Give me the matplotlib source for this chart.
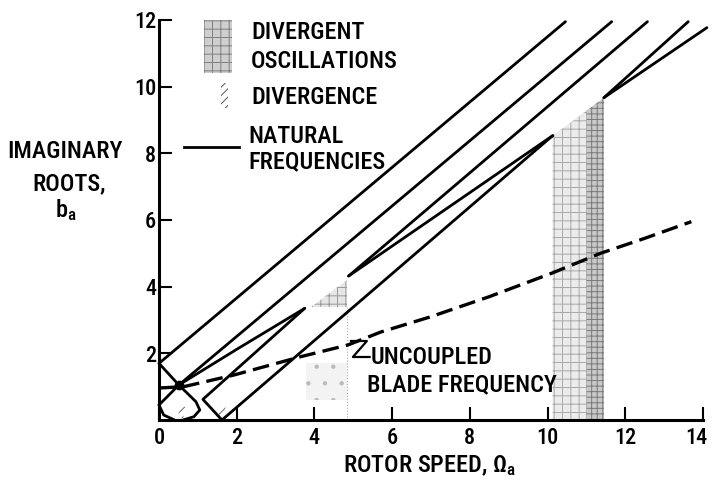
import matplotlib
matplotlib.use("Agg")
import matplotlib.pyplot as plt
from matplotlib.patches import Polygon
from matplotlib.transforms import ScaledTranslation

plt.rcParams['font.family'] = ['Roboto Condensed', 'DejaVu Sans']
plt.rcParams['font.weight'] = 'medium'
plt.rcParams['mathtext.fontset'] = 'custom'
plt.rcParams['mathtext.rm'] = 'Roboto Condensed:medium'
plt.rcParams['mathtext.it'] = 'Roboto Condensed:medium'
plt.rcParams['hatch.linewidth'] = 0.7

# axis ticks
x_ticks = [0, 2, 4, 6, 8, 10, 12, 14]
y_ticks = [2, 4, 6, 8, 10, 12]

# natural frequency branches (rotor speed, imaginary root)
freq1_x = [0.0, 10.46]
freq1_y = [1.70, 11.95]
freq2_x = [0.51, 11.65]
freq2_y = [1.05, 11.95]
freq3_x = [4.88, 12.57]
freq3_y = [4.32, 11.95]
loop1_upper_x = [0.51, 2.0, 3.75]
loop1_upper_y = [1.05, 2.12, 3.35]
loop1_lower_x = [1.62, 1.13, 3.75]
loop1_lower_y = [0.00, 0.62, 3.35]
freq4_x = [1.62, 10.13]
freq4_y = [0.00, 8.53]
loop2_upper_x = [4.88, 10.13]
loop2_upper_y = [4.32, 8.53]
freq5_x = [11.45, 13.62]
freq5_y = [9.67, 11.95]
freq6_x = [11.45, 14.1]
freq6_y = [9.67, 11.77]
low1_x = [0.0, 0.51, 0.95, 1.05, 0.9, 0.62]
low1_y = [1.70, 1.05, 0.55, 0.30, 0.10, 0.0]
low2_x = [0.0, 0.51]
low2_y = [0.45, 1.05]
low3_x = [0.0, 0.12, 0.4]
low3_y = [0.45, 0.15, 0.0]

# uncoupled blade frequency
blade_x = [0.0, 0.64, 1.93, 3.65, 4.86, 5.71, 7.0, 8.5, 10.1, 11.36, 12.5, 13.7]
blade_y = [0.96, 1.00, 1.35, 1.90, 2.25, 2.64, 3.10, 3.70, 4.40, 5.00, 5.45, 5.95]

# divergent oscillation regions
osc_band_x = [10.13, 10.13, 11.45, 11.45]
osc_band_y = [0.0, 8.53, 9.67, 0.0]
osc_dense_x = [11.0, 11.0, 11.45, 11.45]
osc_dense_y = [0.0, 9.27, 9.67, 0.0]
osc_tri_x = [3.9, 4.85, 4.85]
osc_tri_y = [3.4, 3.4, 4.2]
osc_low_x = [3.78, 3.78, 4.85, 4.85]
osc_low_y = [0.6, 1.7, 1.7, 0.6]

# divergence regions
div1_x = [0.48, 0.62, 0.68, 0.54]
div1_y = [0.05, 0.05, 0.40, 0.40]
div2_x = [1.52, 1.66, 1.72, 1.58]
div2_y = [0.05, 0.05, 0.45, 0.45]

FS = 17.5


def main():
    fig = plt.figure(figsize=(7.12, 4.83), dpi=100)
    ax = fig.add_axes([159 / 712, 1 - 420 / 483, 544 / 712, 400 / 483])

    # shading
    ax.add_patch(Polygon(list(zip(osc_band_x, osc_band_y)), closed=True,
                         facecolor='#ebebeb', edgecolor='#a8a8a8', hatch='++', lw=0))
    ax.add_patch(Polygon(list(zip(osc_dense_x, osc_dense_y)), closed=True,
                         facecolor='#c8c8c8', edgecolor='#7a7a7a', hatch='+++', lw=0))
    ax.add_patch(Polygon(list(zip(osc_tri_x, osc_tri_y)), closed=True,
                         facecolor='#e6e6e6', edgecolor='#999999', hatch='++', lw=0))
    ax.add_patch(Polygon(list(zip(osc_low_x, osc_low_y)), closed=True,
                         facecolor='#f3f3f3', edgecolor='#bbbbbb', hatch='.', lw=0))
    ax.plot([4.85, 4.85], [0, 3.4], color='#aaaaaa', lw=0.8, ls=':')
    for dx, dy in [(div1_x, div1_y), (div2_x, div2_y)]:
        ax.add_patch(Polygon(list(zip(dx, dy)), closed=True,
                             facecolor='none', edgecolor='#666666', hatch='////', lw=0))

    lw = 2.0
    branches = [(freq1_x, freq1_y), (freq2_x, freq2_y), (freq3_x, freq3_y),
                (loop1_upper_x, loop1_upper_y), (loop1_lower_x, loop1_lower_y),
                (freq4_x, freq4_y), (loop2_upper_x, loop2_upper_y),
                (freq5_x, freq5_y), (freq6_x, freq6_y),
                (low1_x, low1_y), (low2_x, low2_y), (low3_x, low3_y)]
    for bx, by in branches:
        ax.plot(bx, by, color='black', lw=lw, solid_capstyle='round', clip_on=False)
    ax.plot([0.51], [1.05], 'o', color='black', ms=6)

    ax.plot(blade_x, blade_y, color='black', lw=2.4, ls=(0, (5, 2.2)))

    # leader "Z" for the blade frequency label
    ax.plot([4.94, 5.35, 4.99, 5.42], [2.37, 2.37, 1.89, 1.89], color='black', lw=1.6)
    ax.text(5.45, 1.86, 'UNCOUPLED', fontsize=FS, va='center', ha='left')
    ax.text(5.35, 1.05, 'BLADE FREQUENCY', fontsize=FS, va='center', ha='left')

    # legend drawn inside the axes
    ax.add_patch(Polygon([(1.16, 10.4), (1.88, 10.4), (1.88, 12.08), (1.16, 12.08)],
                         closed=True, facecolor='#cfcfcf', edgecolor='#808080',
                         hatch='++', lw=0))
    ax.add_patch(Polygon([(1.6, 9.37), (1.78, 9.37), (1.78, 10.12), (1.6, 10.12)],
                         closed=True, facecolor='none', edgecolor='#555555',
                         hatch='////', lw=0))
    ax.plot([0.64, 2.06], [8.2, 8.2], color='black', lw=lw)
    ax.text(2.37, 11.62, 'DIVERGENT', fontsize=FS, va='center')
    ax.text(2.37, 10.75, 'OSCILLATIONS', fontsize=FS, va='center')
    ax.text(2.37, 9.67, 'DIVERGENCE', fontsize=FS, va='center')
    ax.text(2.31, 8.5, 'NATURAL', fontsize=FS, va='center')
    ax.text(2.31, 7.75, 'FREQUENCIES', fontsize=FS, va='center')

    ax.set_xlim(0, 14)
    ax.set_ylim(0, 12)
    ax.spines['top'].set_visible(False)
    ax.spines['right'].set_visible(False)
    ax.spines['left'].set_linewidth(2.2)
    ax.spines['bottom'].set_linewidth(2.2)
    ax.set_xticks(x_ticks)
    ax.set_yticks(y_ticks)
    ax.tick_params(axis='both', direction='in', length=9.5, width=1.5, labelsize=16)
    ax.tick_params(axis='x', pad=5)
    ax.tick_params(axis='y', pad=2)
    # keep the last x label inside the picture
    last = ax.get_xticklabels()[-1]
    last.set_transform(last.get_transform() + ScaledTranslation(-5 / 72, 0, fig.dpi_scale_trans))

    fig.text(65 / 712, 1 - 151 / 483, 'IMAGINARY', fontsize=FS, ha='center', va='center')
    fig.text(69 / 712, 1 - 184 / 483, 'ROOTS,', fontsize=FS, ha='center', va='center')
    fig.text(66 / 712, 1 - 210 / 483, r'b$_\mathrm{a}$', fontsize=FS, ha='center', va='center')
    fig.text(430 / 712, 1 - 466 / 483, r'ROTOR SPEED, $\Omega_\mathrm{a}$', fontsize=FS,
             ha='center', va='center')

    fig.savefig('out.png', dpi=100)


if __name__ == '__main__':
    main()
